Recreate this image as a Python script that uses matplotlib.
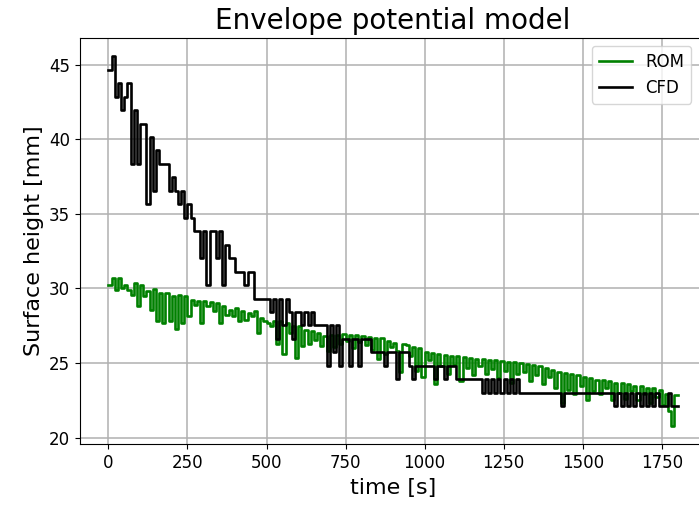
import numpy as np
import matplotlib
matplotlib.use("Agg")
import matplotlib.pyplot as plt

# Output sampled every 10 s from 0 to 1800 s
time_s = np.arange(0, 1810, 10)

# Reduced-order model surface height [mm]
rom_height = [
    30.26, 30.71, 29.93, 30.71, 30.04, 30.26, 29.93, 29.59, 30.37, 28.80,
    30.26, 29.48, 29.80, 28.59, 29.97, 27.80, 29.70, 27.70, 29.70, 27.80,
    29.48, 27.30, 29.59, 27.70, 29.48, 28.14, 29.26, 28.92, 29.15, 27.70,
    29.19, 28.81, 29.08, 28.48, 29.03, 27.70, 28.81, 28.25, 28.59, 28.14,
    28.70, 27.81, 28.48, 27.92, 28.37, 28.14, 28.48, 27.03, 28.03, 27.81,
    27.70, 27.47, 27.81, 26.25, 27.81, 25.58, 27.70, 27.03, 27.47, 25.36,
    27.47, 26.14, 27.25, 26.25, 27.14, 26.58, 27.03, 26.14, 26.81, 25.80,
    26.85, 26.10, 26.90, 26.30, 26.95, 26.50, 26.90, 26.00, 26.85, 26.40,
    26.80, 26.20, 26.75, 25.90, 26.70, 25.25, 26.65, 25.60, 26.50, 26.10,
    26.35, 25.80, 24.40, 26.30, 26.20, 25.50, 26.05, 24.45, 26.00, 24.10,
    25.75, 25.20, 25.70, 23.60, 25.60, 24.80, 25.55, 24.30, 25.50, 24.90,
    25.45, 23.80, 25.40, 24.70, 25.35, 24.20, 25.30, 24.80, 25.25, 24.30,
    25.20, 24.60, 25.20, 24.00, 25.15, 24.50, 25.10, 23.70, 25.05, 24.30,
    25.00, 24.40, 24.95, 23.80, 24.90, 24.20, 24.80, 23.60, 24.70, 24.10,
    24.55, 23.30, 24.40, 22.30, 24.35, 23.20, 24.25, 22.90, 24.20, 23.50,
    24.05, 22.50, 24.00, 23.10, 23.90, 22.90, 23.85, 23.30, 23.80, 22.50,
    23.70, 23.00, 23.65, 22.60, 23.60, 23.10, 23.50, 22.50, 23.45, 22.90,
    23.35, 22.30, 23.30, 22.70, 23.20, 22.20, 22.90, 21.80, 20.80, 22.85,
    22.85,
]

# CFD surface height [mm], resolved on the mesh cell size
cfd_height = [
    44.66, 45.56, 42.85, 43.76, 41.95, 42.85, 43.76, 38.34, 41.95, 38.34,
    41.05, 41.05, 35.64, 40.15, 36.54, 39.25, 38.34, 38.34, 38.34, 36.54,
    37.44, 36.54, 35.64, 36.54, 34.74, 35.64, 34.74, 33.83, 33.83, 32.03,
    33.83, 30.23, 33.83, 33.83, 32.03, 33.83, 30.23, 32.93, 32.03, 32.03,
    31.13, 31.13, 31.13, 30.23, 31.13, 31.13, 29.32, 29.32, 29.32, 29.32,
    29.32, 28.42, 29.32, 26.62, 29.32, 27.52, 29.32, 28.42, 26.62, 28.42,
    28.42, 27.52, 28.42, 27.52, 28.42, 27.52, 27.52, 27.52, 27.52, 24.81,
    27.52, 25.72, 27.52, 24.81, 26.62, 26.62, 24.81, 26.62, 26.62, 24.81,
    26.62, 26.62, 26.62, 25.72, 25.72, 25.72, 25.72, 24.81, 25.72, 25.72,
    25.72, 23.91, 25.72, 25.72, 25.72, 24.81, 23.91, 24.81, 24.81, 24.81,
    24.81, 24.81, 24.81, 23.91, 24.81, 24.81, 23.91, 24.81, 24.81, 24.81,
    23.91, 23.91, 23.91, 23.91, 23.91, 23.91, 23.91, 23.91, 23.01, 23.91,
    23.01, 23.91, 23.01, 23.91, 23.01, 23.91, 23.01, 23.91, 23.01, 23.91,
    23.01, 23.01, 23.01, 23.01, 23.01, 23.01, 23.01, 23.01, 23.01, 23.01,
    23.01, 23.01, 23.01, 22.11, 23.01, 23.01, 23.01, 23.01, 23.01, 23.01,
    23.01, 23.01, 23.01, 23.01, 23.01, 23.01, 23.01, 23.01, 23.01, 23.01,
    22.11, 23.01, 22.11, 23.01, 22.11, 23.01, 22.11, 23.01, 22.11, 23.01,
    22.11, 23.01, 22.11, 23.01, 22.11, 22.11, 22.11, 23.01, 22.11, 22.11,
    22.11,
]

fig = plt.figure(figsize=(6.99, 5.09), dpi=100)
ax = fig.add_axes([80 / 699, (509 - 444.3) / 509, (706 - 80) / 699, (444.3 - 37.7) / 509])

ax.step(time_s, rom_height, where="post", color="green", lw=1.9, label="ROM")
ax.step(time_s, cfd_height, where="post", color="black", lw=1.9, label="CFD")

ax.set_title("Envelope potential model", fontsize=20)
ax.set_xlabel("time [s]", fontsize=16)
ax.set_ylabel("Surface height [mm]", fontsize=16)
ax.tick_params(labelsize=12)
ax.set_xticks(np.arange(0, 1751, 250))
ax.set_yticks(np.arange(20, 46, 5))
ax.grid(True, color="#b0b0b0", lw=1.1)

ax.legend(loc="upper right", bbox_to_anchor=(0.9896, 1.0), fontsize=12)

fig.savefig("out.png", dpi=100)
